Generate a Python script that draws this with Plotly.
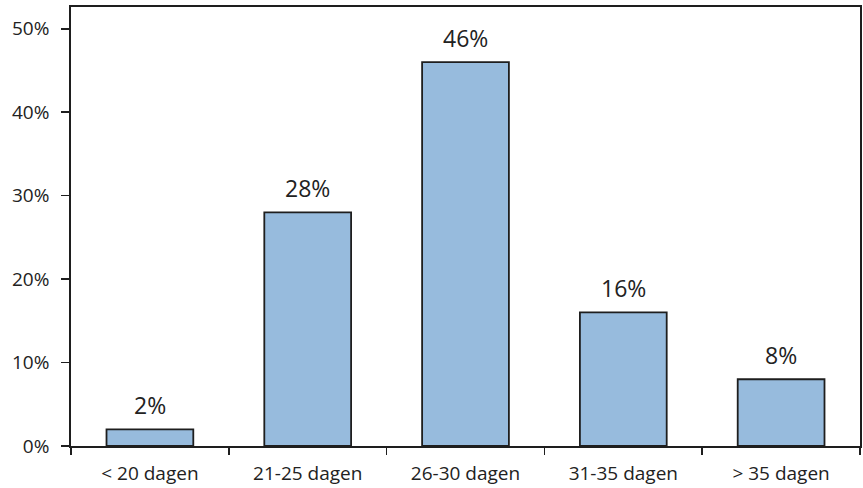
import plotly.graph_objects as go

categories = ["< 20 dagen", "21-25 dagen", "26-30 dagen", "31-35 dagen", "> 35 dagen"]
values = [2, 28, 46, 16, 8]
labels = ["2%", "28%", "46%", "16%", "8%"]
y_ticks = [0, 10, 20, 30, 40, 50]
y_tick_text = ["0%", "10%", "20%", "30%", "40%", "50%"]

font_family = "Open Sans, Noto Sans, sans-serif"

fig = go.Figure()
fig.add_trace(go.Bar(
    x=categories, y=values, width=0.55,
    marker=dict(color="#97bbdd", line=dict(color="#1e1e1e", width=1.8)),
    hoverinfo="skip",
))

for c, v, t in zip(categories, values, labels):
    fig.add_annotation(x=c, y=v, text=t, showarrow=False, yanchor="bottom",
                       yshift=6, font=dict(size=23, color="#222222", family=font_family))

fig.update_layout(
    width=863, height=488,
    margin=dict(l=71, r=3, t=7, b=42),
    paper_bgcolor="white", plot_bgcolor="white",
    showlegend=False,
    font=dict(family=font_family, color="#222222"),
)
fig.update_xaxes(
    type="category", range=[-0.5, 4.5], automargin=False,
    showline=True, linecolor="#1e1e1e", linewidth=1.8, mirror=True,
    ticks="outside", tickson="boundaries", ticklen=7, tickcolor="#1e1e1e", tickwidth=1.6,
    tickfont=dict(size=19, color="#222222"), showgrid=False, ticklabelstandoff=9,
)
fig.update_yaxes(
    range=[0, 52.6], tickvals=y_ticks, ticktext=y_tick_text, automargin=False,
    showline=True, linecolor="#1e1e1e", linewidth=1.8, mirror=True,
    ticks="outside", ticklen=8, tickcolor="#1e1e1e", tickwidth=1.6,
    tickfont=dict(size=19, color="#222222"), showgrid=False, zeroline=False,
    ticklabelstandoff=8,
)

fig.write_html(
    "out.html",
    config={"displayModeBar": False, "staticPlot": True},
    post_script="document.body.style.margin='0';document.body.style.overflow='hidden';",
)
